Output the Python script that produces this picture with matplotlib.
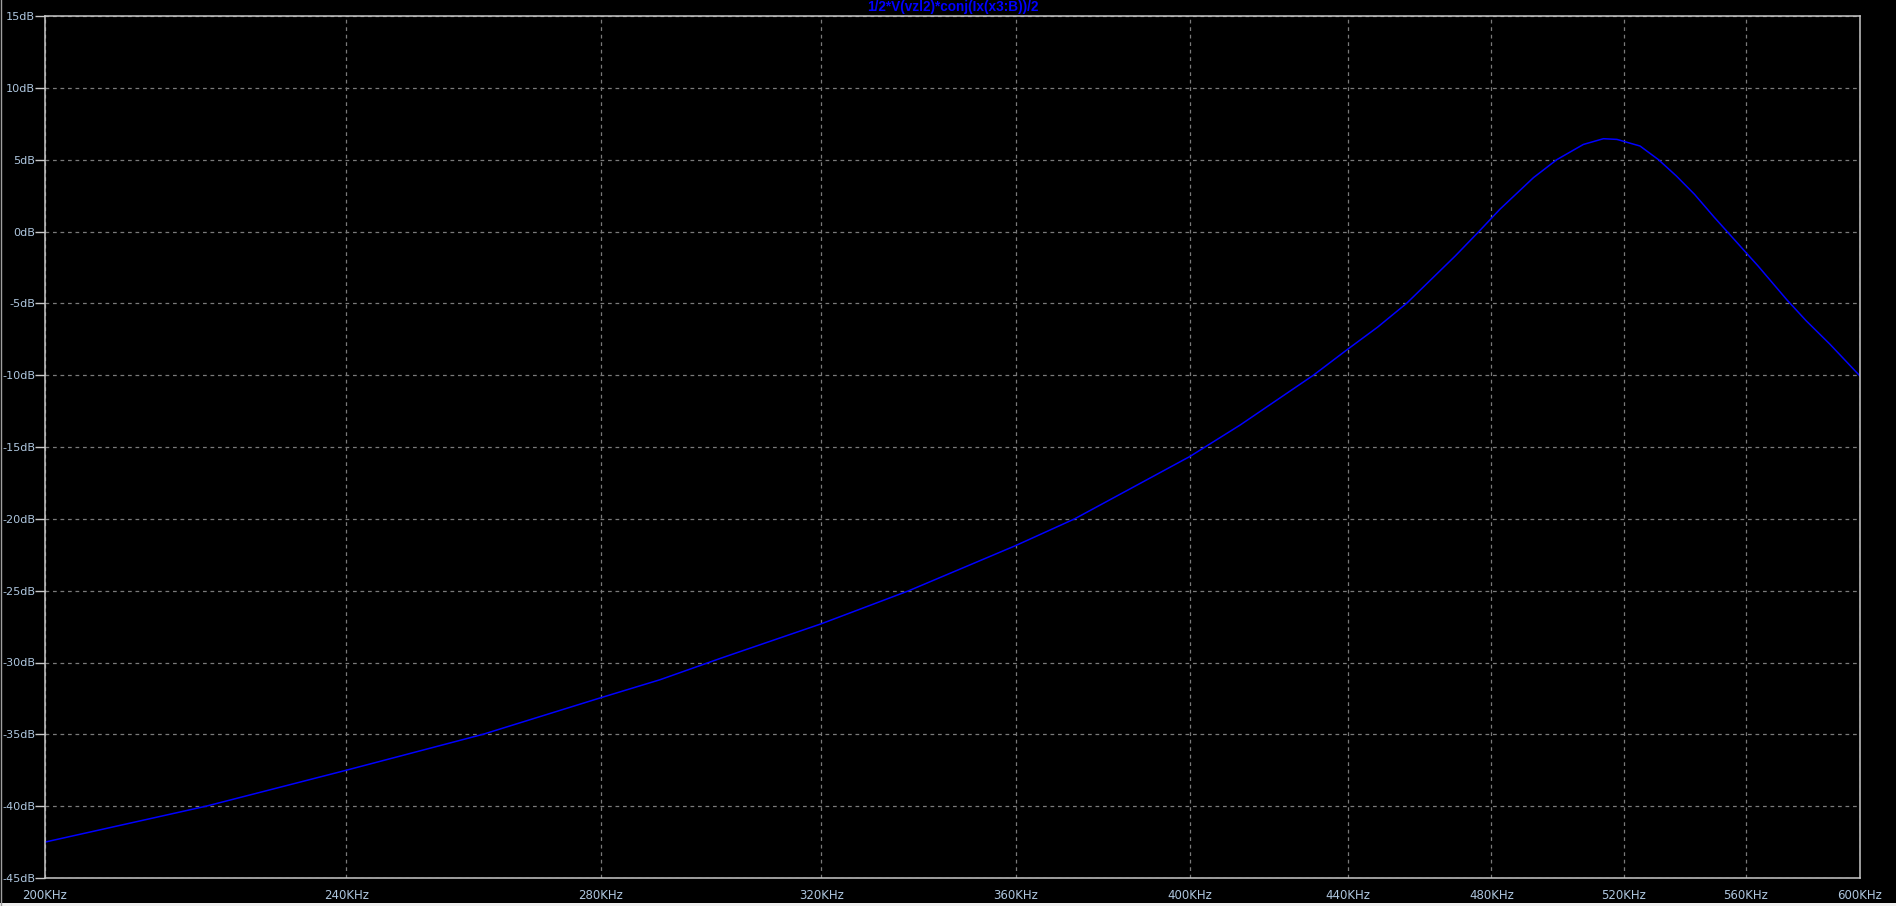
import matplotlib
matplotlib.use("Agg")
import matplotlib.pyplot as plt
from matplotlib.ticker import FixedLocator, NullLocator
from matplotlib.lines import Line2D
from matplotlib.patches import Rectangle
from matplotlib import font_manager

# Data (frequency in kHz, level in dB)
freq_khz = [200, 220.5, 240, 260.7, 280, 290.2, 301.1, 320, 337.4, 360, 373,
            400, 412.3, 431, 440, 448.1, 456, 469.6, 476.4, 482.5, 492.4,
            499.4, 507.5, 513.7, 517.9, 525.2, 531.1, 536.9, 542.8, 549.3,
            560, 564.1, 574, 580.7, 589.2, 600]
level_db = [-42.5, -40.0, -37.5, -35.0, -32.45, -31.2, -29.7, -27.3, -25.0, -21.85, -20.0,
            -15.65, -13.47, -10.0, -8.2, -6.65, -5.0, -1.71, 0.0, 1.55, 3.75,
            5.0, 6.06, 6.46, 6.41, 5.95, 5.0, 3.86, 2.59, 1.0,
            -1.47, -2.4, -4.75, -6.2, -7.85, -10.06]

x_ticks = [200, 240, 280, 320, 360, 400, 440, 480, 520, 560, 600]
x_tick_labels = [f"{v}KHz" for v in x_ticks]
y_ticks = list(range(-45, 16, 5))
y_tick_labels = [f"{v}dB" for v in y_ticks]
title_text = "1/2*V(vzl2)*conj(Ix(x3:B))/2"

available = {f.name for f in font_manager.fontManager.ttflist}
if "Liberation Sans Narrow" in available:
    title_family, title_size = "Liberation Sans Narrow", 12
else:
    title_family, title_size = "Liberation Sans", 9.8

W, H = 1896, 906
fig = plt.figure(figsize=(W / 100, H / 100), dpi=100, facecolor="black")
left, right, top, bottom = 45, 1860, 16, 878
ax = fig.add_axes([left / W, 1 - bottom / H, (right - left) / W, (bottom - top) / H])
ax.set_facecolor("black")

ax.plot(freq_khz, level_db, color="#0000ff", lw=1.1)

ax.set_xscale("log")
ax.set_xlim(200, 600)
ax.set_ylim(-45, 15)
ax.xaxis.set_major_locator(FixedLocator(x_ticks))
ax.xaxis.set_minor_locator(NullLocator())
ax.set_xticklabels(x_tick_labels)
ax.set_yticks(y_ticks)
ax.set_yticklabels(y_tick_labels)

label_color = "#aec6de"
ax.tick_params(axis="x", length=0, pad=8, labelsize=8.5, labelcolor=label_color)
ax.tick_params(axis="y", length=7, width=1, color="#c8c8c8", pad=0.2,
               labelsize=8.1, labelcolor=label_color)
for lab in ax.get_xticklabels() + ax.get_yticklabels():
    lab.set_fontfamily("DejaVu Sans")

ax.grid(True, which="major", color="#7a7a7a", linestyle=(0, (3, 3)), lw=0.9)
for s in ax.spines.values():
    s.set_color("#c8c8c8")
    s.set_linewidth(1.1)

fig.text(0.5 * (left + right) / W, 1 - 7 / H, title_text, color="#0000ff",
         fontsize=title_size, fontweight="bold", family=title_family,
         ha="center", va="center")

# window edges
fig.add_artist(Line2D([1.0 / W, 1.0 / W], [0, 1], color="#a0a0a0", lw=1.0))
fig.add_artist(Rectangle((0, 0), 1, 3 / H, color="#f0f0f0", lw=0))

fig.savefig("out.png", dpi=100, facecolor="black")
